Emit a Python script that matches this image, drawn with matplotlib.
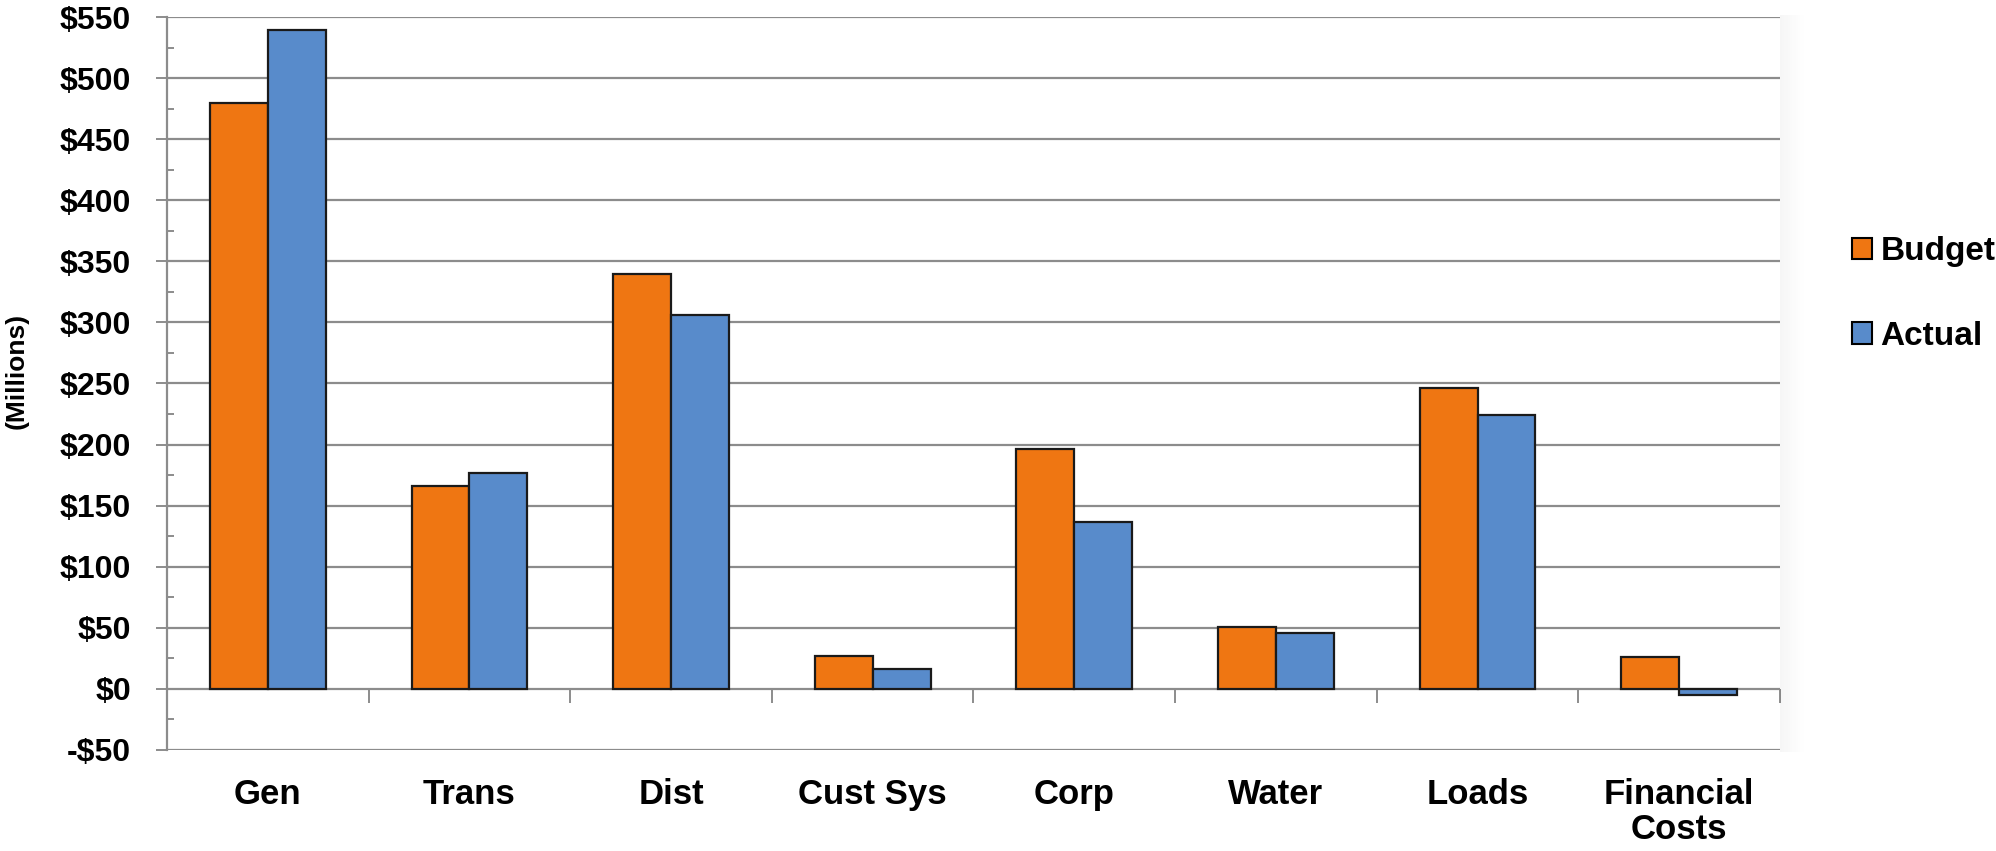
import numpy as np
import matplotlib
matplotlib.use("Agg")
import matplotlib.pyplot as plt
from matplotlib.ticker import MultipleLocator, FuncFormatter
from matplotlib.patches import Patch, Rectangle


categories = ["Gen", "Trans", "Dist", "Cust Sys", "Corp", "Water", "Loads", "Financial\nCosts"]
budget = [480, 166, 340, 27, 196, 51, 246, 26]
actual = [539, 177, 306, 16, 137, 46, 224, -5]
series_names = ["Budget", "Actual"]

ORANGE = "#EF7612"
BLUE = "#588BCB"
GRID = "#8c8c8c"
FONT = "Liberation Sans"


def money(v, _pos):
    v = int(round(v))
    return f"-${-v}" if v < 0 else f"${v}"


fig = plt.figure(figsize=(19.96, 8.51), dpi=100)
ax = fig.add_axes([167 / 1996, 1 - 750 / 851, (1780 - 167) / 1996, (750 - 17) / 851])

x = np.arange(len(categories))
w = 0.287

ax.bar(x - w / 2, budget, w, color=ORANGE, edgecolor="#1a1a1a", linewidth=1.6, zorder=3)
ax.bar(x + w / 2, actual, w, color=BLUE, edgecolor="#1a1a1a", linewidth=1.6, zorder=3)

# ---------------------------------------------------------------- y axis
ax.set_ylim(-50, 550)
ax.yaxis.set_major_locator(MultipleLocator(50))
ax.yaxis.set_minor_locator(MultipleLocator(25))
ax.yaxis.set_major_formatter(FuncFormatter(money))
ax.yaxis.grid(True, color=GRID, linewidth=1.6, zorder=0)
ax.tick_params(axis="y", which="major", direction="out", length=8, width=1.4,
               color=GRID, pad=18, labelsize=23)
ax.tick_params(axis="y", which="minor", direction="in", length=5, width=1.4, color=GRID)
for lab in ax.get_yticklabels():
    lab.set_fontfamily(FONT)
    lab.set_fontweight("bold")

# ---------------------------------------------------------------- x axis
ax.set_xlim(-0.5, len(categories) - 0.5)
ax.set_xticks(x)
ax.set_xticklabels(categories, fontsize=25, fontweight="bold", fontfamily=FONT,
                   linespacing=1.1)
ax.tick_params(axis="x", length=0, pad=20)

# category separators hanging below the zero line
bounds = np.arange(1, len(categories) + 1) - 0.5
ax.plot(bounds, np.zeros_like(bounds), ls="none", marker=3, ms=10, mew=1.4,
        color=GRID, zorder=2, clip_on=False)

for s in ["top", "right", "bottom"]:
    ax.spines[s].set_visible(False)
ax.spines["left"].set_color(GRID)
ax.spines["left"].set_linewidth(1.6)

# soft shadow on the right edge of the plot area
for i in range(12):
    fig.patches.append(Rectangle(((1780 + i * 2) / 1996, 1 - 752 / 851), 2 / 1996,
                                 (752 - 15) / 851, transform=fig.transFigure,
                                 color="black", alpha=0.035 * (12 - i) / 12,
                                 linewidth=0, zorder=0))

fig.text(17 / 1996, 1 - 371 / 851, "(Millions)", rotation=90, ha="center", va="center",
         fontsize=19, fontweight="bold", fontfamily=FONT)

handles = [Patch(facecolor=ORANGE, edgecolor="black", linewidth=1.5),
           Patch(facecolor=BLUE, edgecolor="black", linewidth=1.5)]
fig.legend(handles, series_names, loc="center left",
           bbox_to_anchor=(1852 / 1996, 1 - 294 / 851), frameon=False,
           prop={"family": FONT, "weight": "bold", "size": 24},
           handlelength=0.6, handleheight=0.6, handletextpad=0.25,
           labelspacing=1.6, borderaxespad=0, borderpad=0)

plt.savefig("out.png", dpi=100)
